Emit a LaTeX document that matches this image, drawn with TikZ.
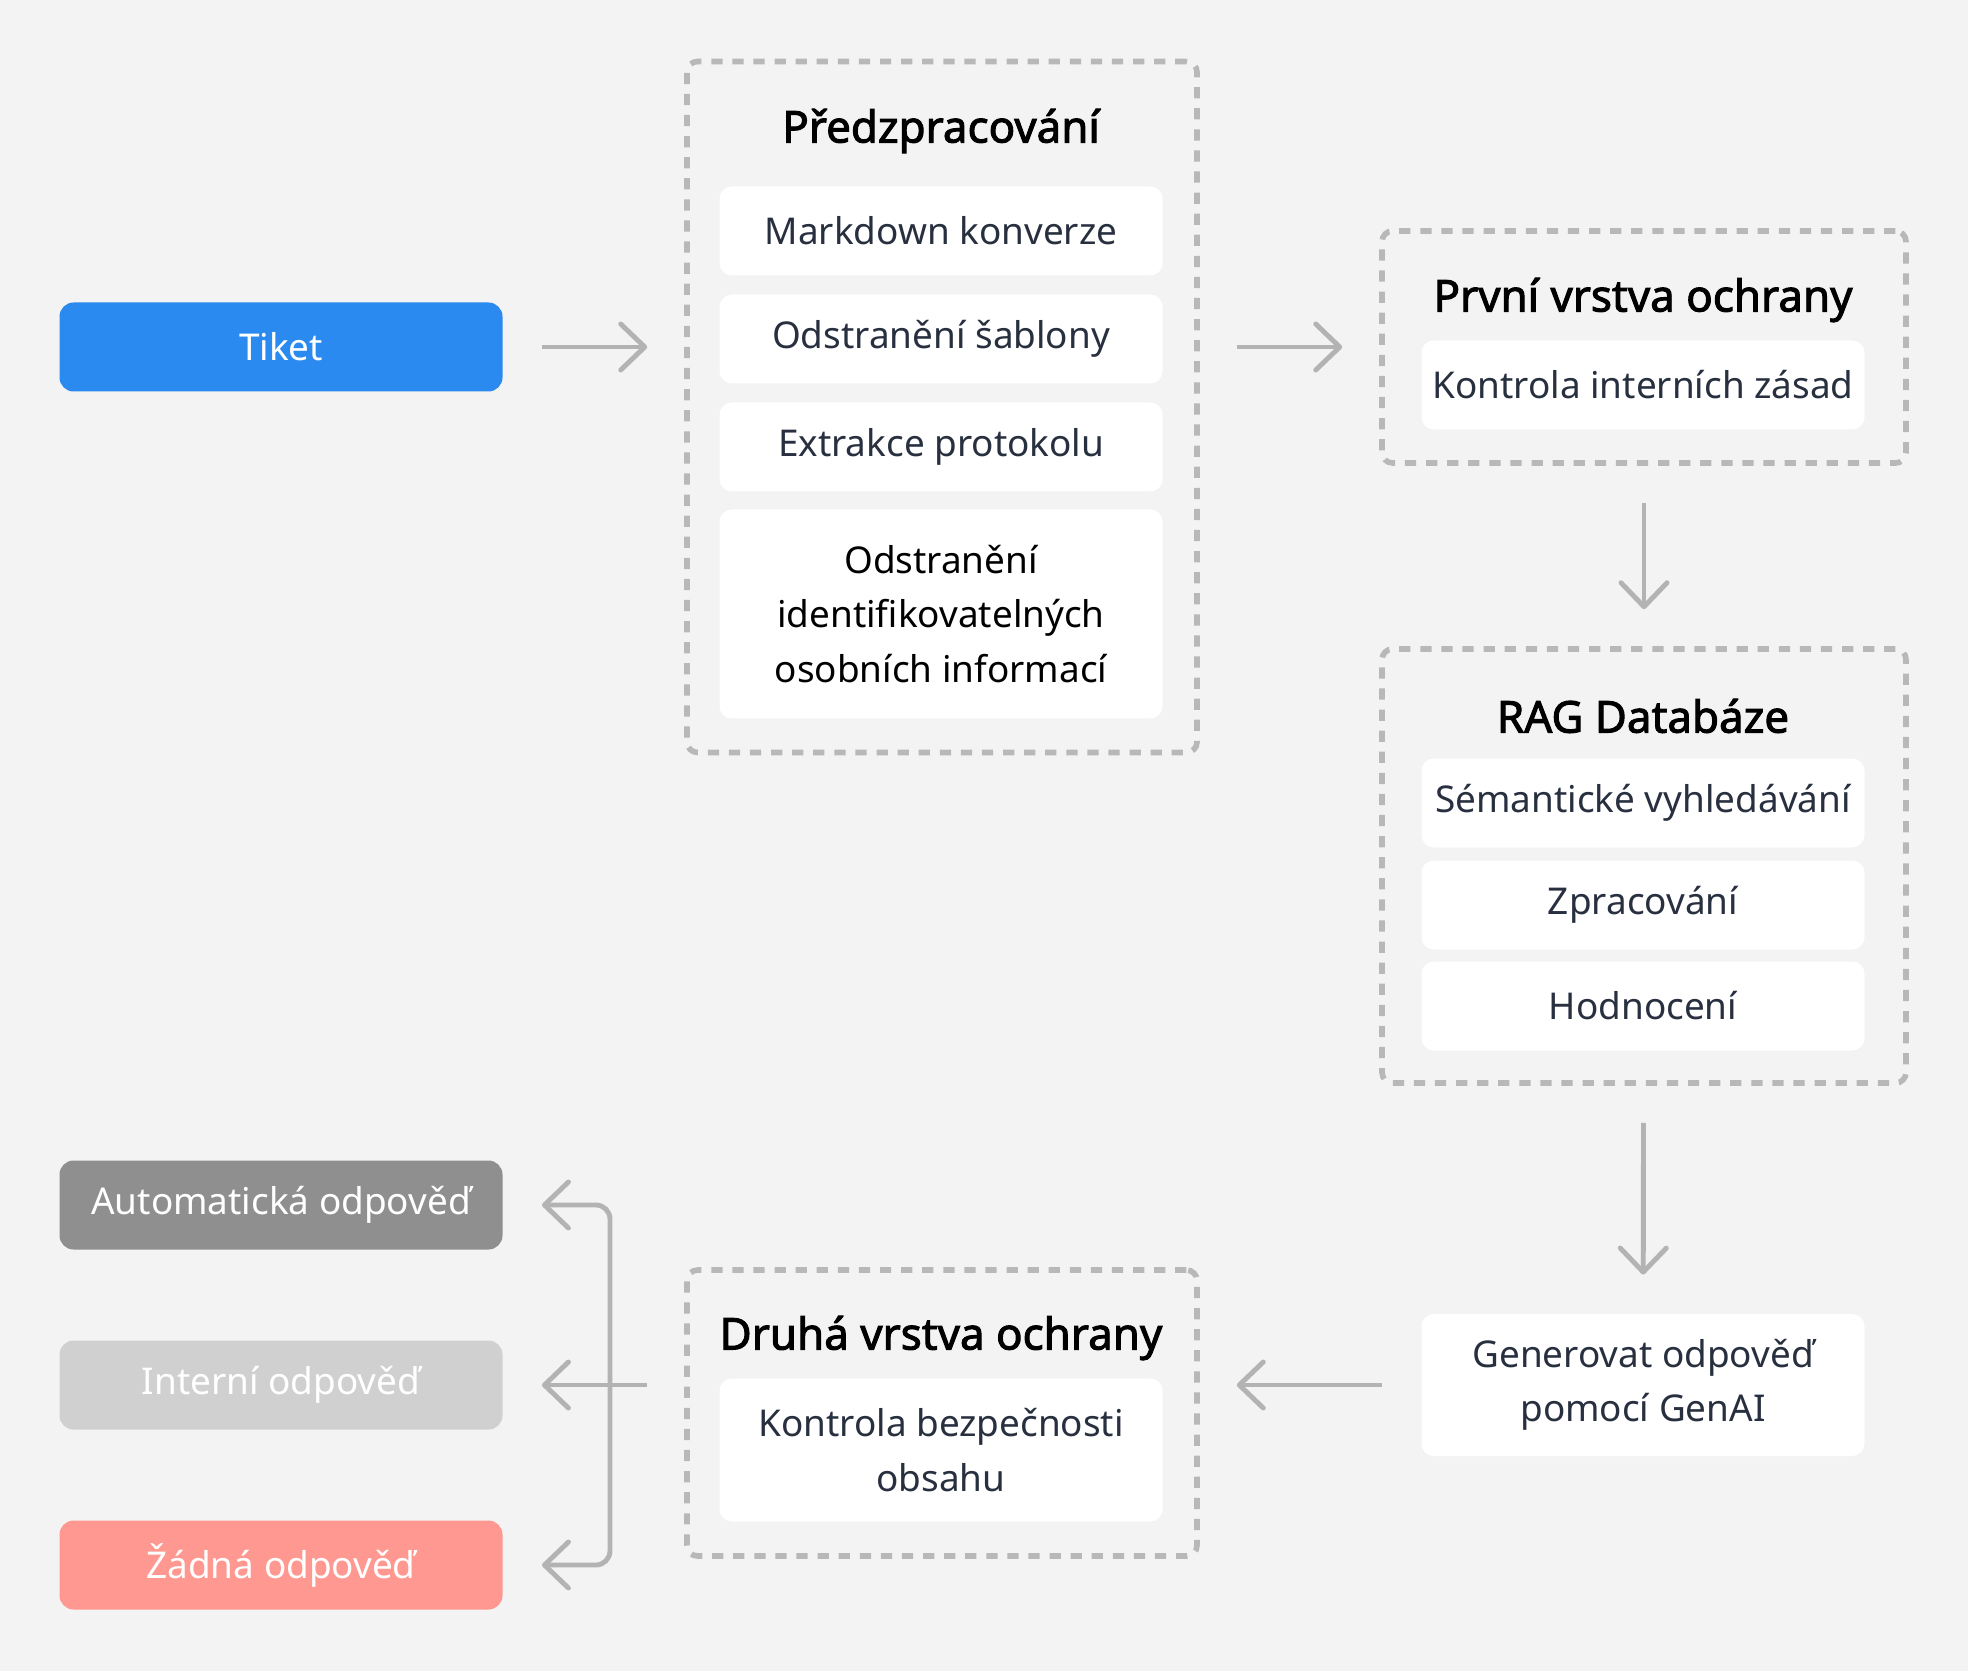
\documentclass[tikz,border=0pt]{standalone}
\usepackage{fontspec}
\setmainfont{Noto Sans}[AutoFakeBold=2.2]
\usetikzlibrary{arrows.meta}
\definecolor{bg}{HTML}{F3F3F3}
\definecolor{dashgray}{HTML}{B8B8B8}
\definecolor{arrowgray}{HTML}{B3B3B3}
\definecolor{slate}{HTML}{283040}
\definecolor{ticketblue}{HTML}{2B8AF0}
\definecolor{autogray}{HTML}{8F8F8F}
\definecolor{interngray}{HTML}{D0D0D0}
\definecolor{nonered}{HTML}{FF9890}
\begin{document}
\begin{tikzpicture}
  [x=0.1mm,y=-0.1mm,line width=1.4pt,
   >={Straight Barb[length=2.4mm,width=4.6mm,round]},
   every node/.style={align=center,inner sep=0pt,font=\fontsize{10.5}{15.4}\selectfont},
   group/.style={draw=dashgray,line width=1.6pt,dash pattern=on 3.2pt off 2.8pt,rounded corners=3pt},
   item/.style={fill=white,text=slate,rounded corners=3.5pt,minimum width=4.43cm,minimum height=0.89cm},
   head/.style={font=\fontsize{12.5}{16}\selectfont\bfseries},
   outbox/.style={text=white,rounded corners=4pt,minimum width=4.43cm,minimum height=0.89cm},
   link/.style={->,draw=arrowgray,shorten <=3.7mm,shorten >=3.7mm}]
  \fill[bg] (0,0) rectangle (1968,1671);
  \useasboundingbox (0,0) rectangle (1968,1671);

  % groups
  \node[group,minimum width=5.10cm,minimum height=6.91cm] (pre) at (942,407) {};
  \node[group,minimum width=5.24cm,minimum height=2.32cm] (first) at (1644,347) {};
  \node[group,minimum width=5.24cm,minimum height=4.34cm] (rag) at (1644,866) {};
  \node[group,minimum width=5.10cm,minimum height=2.86cm] (second) at (942,1413) {};

  \node[head] (prehead) at (941,131) {Předzpracování};
  \node[head] (firsthead) at (1643,300) {První vrstva ochrany};
  \node[head] (raghead) at (1643,716) {RAG Databáze};
  \node[head] (secondhead) at (941,1338) {Druhá vrstva ochrany};

  \node[item] (md) at (941,231) {Markdown konverze};
  \node[item] (tpl) at (941,339) {Odstranění šablony};
  \node[item] (proto) at (941,447) {Extrakce protokolu};
  \node[item,text=black,minimum height=2.09cm] (pii) at (941,614)
    {Odstranění\\identifikovatelných\\osobních informací};

  \node[item] (policy) at (1643,385) {Kontrola interních zásad};

  \node[item] (sem) at (1643,803) {Sémantické vyhledávání};
  \node[item] (proc) at (1643,905) {Zpracování};
  \node[item] (rank) at (1643,1006) {Hodnocení};

  \node[item,minimum height=1.42cm] (gen) at (1643,1385) {Generovat odpověď\\pomocí GenAI};
  \node[item,minimum height=1.43cm] (safety) at (941,1450) {Kontrola bezpečnosti\\obsahu};

  \node[outbox,fill=ticketblue] (ticket) at (281,347) {Tiket};
  \node[outbox,fill=autogray] (auto) at (281,1205) {Automatická odpověď};
  \node[outbox,fill=interngray] (intern) at (281,1385) {Interní odpověď};
  \node[outbox,fill=nonered] (none) at (281,1565) {Žádná odpověď};

  \coordinate (fork) at (610,1386);

  \draw[link] (ticket) -- (ticket -| pre.west);
  \draw[link] (ticket -| pre.east) -- (first);
  \draw[link] (first) -- (rag);
  \draw[link] (rag) -- (gen);
  \draw[link] (gen) -- (gen -| second.east);
  \draw[link] (gen -| second.west) -- (intern);
  \draw[link,<->,rounded corners=4pt] (auto) -| (fork) |- (none);
\end{tikzpicture}
\end{document}
